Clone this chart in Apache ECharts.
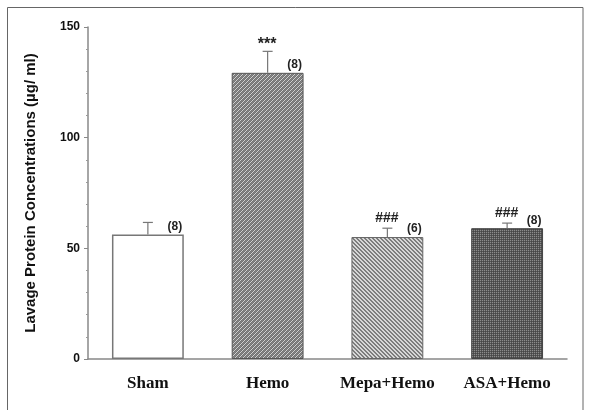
<!DOCTYPE html>
<html><head><meta charset="utf-8">
<script src="https://cdn.jsdelivr.net/npm/echarts@6/dist/echarts.min.js"></script>
<style>html,body{margin:0;padding:0;background:#fff}#c{width:590px;height:410px}</style>
</head><body><div id="c"></div>
<script>
const categories = ['Sham', 'Hemo', 'Mepa+Hemo', 'ASA+Hemo'];
const means = [56.3, 129.3, 55.1, 59.1];
const errors = [5.4, 9.7, 4.0, 2.3];
const nLabels = ['(8)', '(8)', '(6)', '(8)'];
const sigLabels = ['', '***', '###', '###'];
const yTicks = [0, 50, 100, 150];

function makePattern(kind) {
  const c = document.createElement('canvas');
  c.width = 4; c.height = 4;
  const g = c.getContext('2d');
  const img = g.createImageData(4, 4);
  for (let y = 0; y < 4; y++) for (let x = 0; x < 4; x++) {
    let v;
    if (kind === 'slash') v = ((x + y) % 4 === 0) ? 210 : ((x + y) % 4 === 2 ? 135 : 115);
    else if (kind === 'back') v = ((x - y + 8) % 4 === 0 || (x - y + 8) % 4 === 1) ? 215 : 125;
    else v = (x % 2 === 0 && y % 2 === 0) ? 140 : ((x + y) % 2 === 0 ? 70 : 85);
    const i = (y * 4 + x) * 4;
    img.data[i] = img.data[i + 1] = img.data[i + 2] = v; img.data[i + 3] = 255;
  }
  g.putImageData(img, 0, 0);
  return { image: c, repeat: 'repeat' };
}
const barStyles = [
  { color: '#ffffff', borderColor: '#777', borderWidth: 1.5 },
  { color: makePattern('slash'), borderColor: '#555', borderWidth: 1 },
  { color: makePattern('back'), borderColor: '#666', borderWidth: 1 },
  { color: makePattern('check'), borderColor: '#444', borderWidth: 1 }
];

const chart = echarts.init(document.getElementById('c'), null, { renderer: 'canvas' });
chart.setOption({
  animation: false,
  backgroundColor: '#fff',
  graphic: [{
    type: 'rect', shape: { x: 7.5, y: 7.5, width: 575.5, height: 430 },
    style: { fill: 'none', stroke: '#666', lineWidth: 1 }, silent: true
  }],
  grid: { left: 88, right: 23, top: 27, bottom: 51 },
  xAxis: {
    type: 'category', data: categories,
    axisLine: { lineStyle: { color: '#888', width: 1.5 } },
    axisTick: { alignWithLabel: true, length: 4, lineStyle: { color: '#888' } },
    axisLabel: { interval: 0, margin: 16, color: '#111', fontFamily: 'Liberation Serif', fontWeight: 'bold', fontSize: 17 }
  },
  yAxis: {
    type: 'value', min: yTicks[0], max: yTicks[yTicks.length - 1], interval: 50,
    name: 'Lavage Protein Concentrations (\u00b5g/ ml)', nameLocation: 'middle', nameGap: 50,
    nameTextStyle: { fontFamily: 'Liberation Sans', fontWeight: 'bold', fontSize: 15, color: '#111' },
    axisLine: { show: true, lineStyle: { color: '#888', width: 1.5 } },
    axisTick: { show: true, length: 4, lineStyle: { color: '#888' } },
    minorTick: { show: true, splitNumber: 5, length: 2, lineStyle: { color: '#999' } },
    splitLine: { show: false },
    axisLabel: { margin: 8, color: '#111', fontFamily: 'Liberation Sans', fontWeight: 'bold', fontSize: 12 }
  },
  series: [
    {
      type: 'bar', barWidth: '60%',
      data: means.map((v, i) => ({ value: v, itemStyle: barStyles[i] })),
      z: 2
    },
    {
      type: 'custom', z: 3,
      data: means.map((v, i) => [i, v, v + errors[i]]),
      renderItem: function (params, api) {
        const p0 = api.coord([api.value(0), api.value(1)]);
        const p1 = api.coord([api.value(0), api.value(2)]);
        return {
          type: 'group', children: [
            { type: 'line', shape: { x1: p0[0], y1: p0[1], x2: p1[0], y2: p1[1] }, style: { stroke: '#777', lineWidth: 1.2 } },
            { type: 'line', shape: { x1: p1[0] - 5, y1: p1[1], x2: p1[0] + 5, y2: p1[1] }, style: { stroke: '#777', lineWidth: 1.2 } }
          ]
        };
      }
    },
    {
      type: 'custom', z: 4,
      data: means.map((v, i) => [i, v, v + errors[i]]),
      renderItem: function (params, api) {
        const i = params.dataIndex;
        const pTop = api.coord([api.value(0), api.value(1)]);
        const pErr = api.coord([api.value(0), api.value(2)]);
        const children = [{
          type: 'text', x: pTop[0] + 27, y: pTop[1] - 8,
          style: { text: nLabels[i], fill: '#222', font: 'bold 12px "Liberation Sans"', align: 'center', verticalAlign: 'middle' }
        }];
        if (sigLabels[i]) {
          const star = sigLabels[i] === '***';
          children.push({
            type: 'text', x: pErr[0] - 0.5, y: pErr[1] - (star ? 7 : 10),
            style: { text: sigLabels[i], fill: '#222', font: star ? 'bold 16px "Liberation Sans"' : 'bold 14px "Liberation Sans"', align: 'center', verticalAlign: 'middle' }
          });
        }
        return { type: 'group', children: children };
      }
    }
  ]
});
</script></body></html>
